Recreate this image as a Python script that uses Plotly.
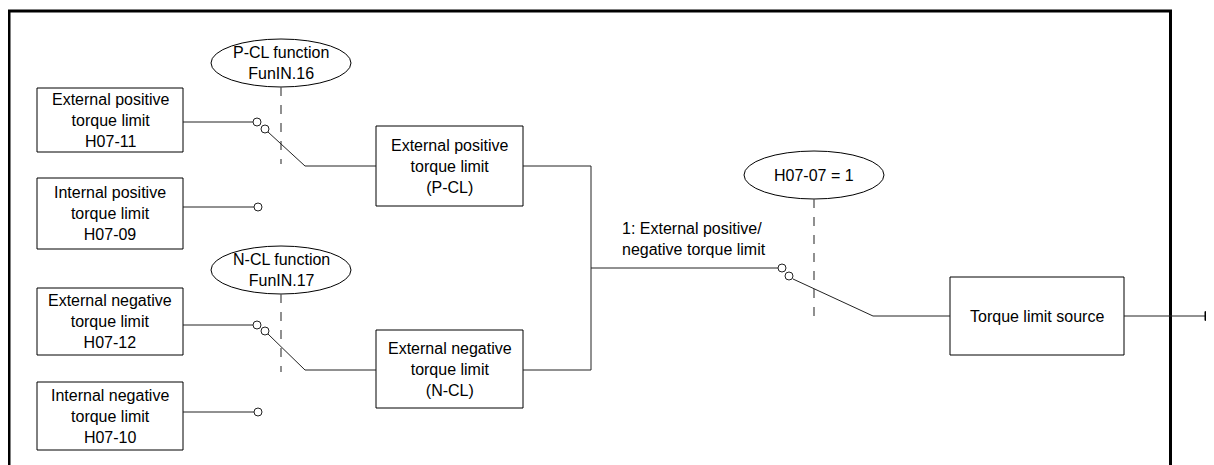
import plotly.graph_objects as go

# ---- diagram content ----
box_labels = [
    "External positive<br>torque limit<br>H07-11",
    "Internal positive<br>torque limit<br>H07-09",
    "External negative<br>torque limit<br>H07-12",
    "Internal negative<br>torque limit<br>H07-10",
    "External positive<br>torque limit<br>(P-CL)",
    "External negative<br>torque limit<br>(N-CL)",
    "Torque limit source",
]
ellipse_labels = [
    "P-CL function<br>FunIN.16",
    "N-CL function<br>FunIN.17",
    "H07-07 = 1",
]
branch_label = "1: External positive/<br>negative torque limit"

# ---- geometry (pixel coordinates) ----
box_geom = [
    (37, 88, 183, 152),
    (37, 178, 183, 249),
    (37, 288, 183, 355),
    (37, 382, 183, 450),
    (376, 126, 523, 206),
    (376, 330, 523, 408),
    (950, 277, 1124, 355),
]
ell_geom = [(281, 63, 70, 24), (281, 270, 70, 24), (814, 175, 70, 24)]

OFF = 8  # page body margin
W, H = 1214, 465
FONT = dict(size=16, color="black", family="Liberation Sans, Arial, sans-serif")
fig = go.Figure()
shapes = []
annotations = []
LC = "#222222"

def line(x0, y0, x1, y1, color=LC, width=1, dash=None):
    d = dict(type="line", x0=x0, y0=y0, x1=x1, y1=y1, xref="x", yref="y",
             line=dict(color=color, width=width))
    if dash:
        d["line"]["dash"] = dash
    shapes.append(d)

def circ(cx, cy, r=4):
    shapes.append(dict(type="circle", x0=cx - r, y0=cy - r, x1=cx + r, y1=cy + r,
                       xref="x", yref="y", line=dict(color=LC, width=1), fillcolor="white"))

# outer frame
shapes.append(dict(type="rect", x0=9, y0=11, x1=1170.5, y1=480, xref="x", yref="y",
                   line=dict(color="black", width=3)))

# boxes
for (x0, y0, x1, y1), lab in zip(box_geom, box_labels):
    shapes.append(dict(type="rect", x0=x0, y0=y0, x1=x1, y1=y1, xref="x", yref="y",
                       line=dict(color="black", width=1), fillcolor="white"))
    annotations.append(dict(x=(x0 + x1) / 2, y=(y0 + y1) / 2, text=lab, showarrow=False,
                            xref="x", yref="y", font=FONT, align="center"))

# ellipses
for (cx, cy, rx, ry), lab in zip(ell_geom, ellipse_labels):
    shapes.append(dict(type="circle", x0=cx - rx, y0=cy - ry, x1=cx + rx, y1=cy + ry,
                       xref="x", yref="y", line=dict(color="black", width=1), fillcolor="white"))
    annotations.append(dict(x=cx, y=cy, text=lab, showarrow=False, xref="x", yref="y",
                            font=FONT, align="center"))

# dashed control lines
line(281, 87, 281, 164, color="#555555", width=1.3, dash="dash")
line(281, 294, 281, 372, color="#555555", width=1.3, dash="dash")
line(814, 199, 814, 323, color="#555555", width=1.3, dash="dash")

# positive switch
line(183, 122, 253, 122)
line(268, 132, 305, 166)
line(305, 166, 376, 166)
circ(257, 122)
circ(265, 129)
line(183, 207, 254, 207)
circ(258, 207)

# negative switch
line(183, 325, 253, 325)
line(268, 334, 305, 370)
line(305, 370, 376, 370)
circ(257, 325)
circ(265, 331)
line(183, 412, 254, 412)
circ(258, 412)

# combine
line(523, 166, 591, 166)
line(591, 166, 591, 370)
line(523, 370, 591, 370)
line(591, 268, 778, 268)
circ(782, 268)
circ(789, 276)
line(793, 279, 873, 316)
line(873, 316, 950, 316)
annotations.append(dict(x=620, y=239, text=branch_label, showarrow=False, xref="x", yref="y",
                        xanchor="left", align="left", font=FONT))

# output
line(1124, 316, 1206, 316)
shapes.append(dict(type="path", path="M 1205 311.5 L 1212.5 316 L 1205 320.5 Z", xref="x", yref="y",
                   fillcolor="black", line=dict(color="black", width=1)))

fig.update_layout(
    width=W - OFF, height=H - OFF, margin=dict(l=0, r=0, t=0, b=0),
    paper_bgcolor="white", plot_bgcolor="white",
    xaxis=dict(range=[OFF, W], visible=False, fixedrange=True),
    yaxis=dict(range=[H, OFF], visible=False, fixedrange=True),
    shapes=shapes, annotations=annotations, showlegend=False,
)
fig.write_html("out.html", config={"displayModeBar": False})
